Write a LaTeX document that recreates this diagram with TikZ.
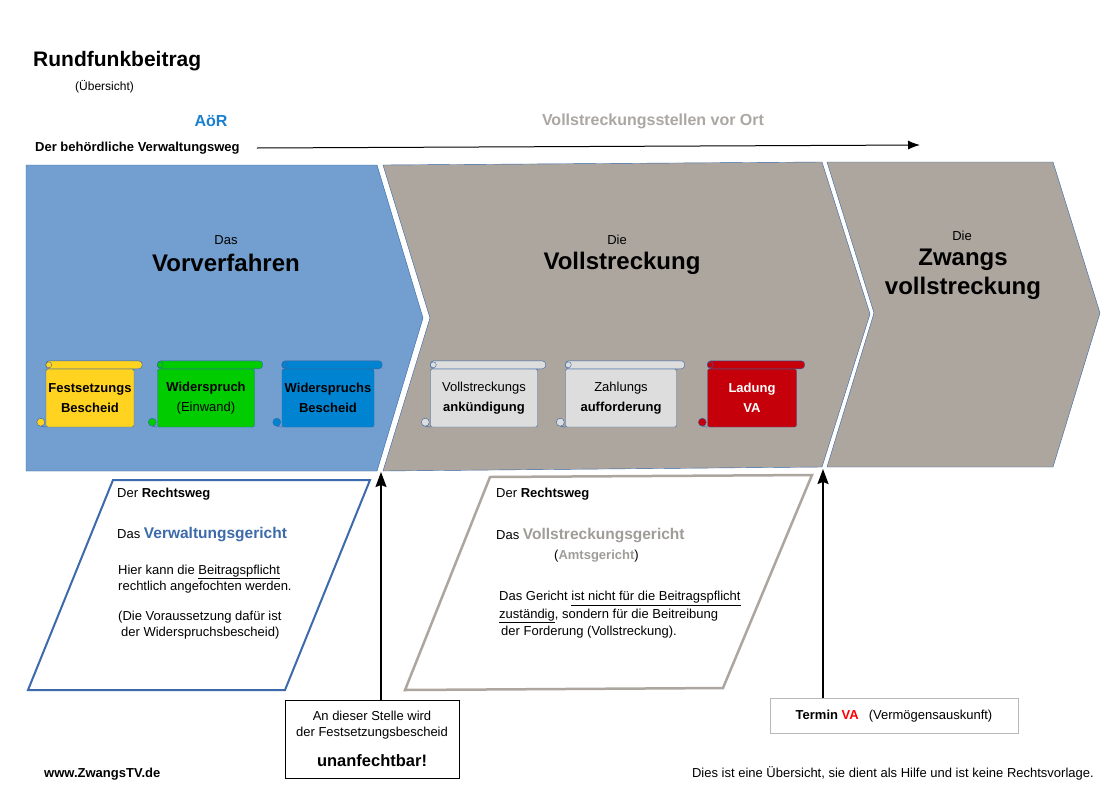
\documentclass[tikz,border=0pt]{standalone}
\usepackage{fontspec}
\setmainfont{Liberation Sans}
\usetikzlibrary{arrows.meta,positioning}
\definecolor{rahmen}{HTML}{3465A4}
\definecolor{aoerfill}{HTML}{729FCF}
\definecolor{grau}{HTML}{ADA69F}
\definecolor{gelb}{HTML}{FFD320}
\definecolor{gruen}{HTML}{00CC00}
\definecolor{blau}{HTML}{0084D1}
\definecolor{hellgrau}{HTML}{DDDDDD}
\definecolor{rot}{HTML}{C5000B}
\definecolor{aoerblau}{HTML}{1A80CF}
\definecolor{ortgrau}{HTML}{ABA7A3}
\definecolor{vgblau}{HTML}{3C6AAA}
\definecolor{vsgrau}{HTML}{A09C98}
\definecolor{boxgrau}{HTML}{B8B8B8}
\begin{document}
\begin{tikzpicture}
[x=1pt,y=-1pt,
txt/.style={inner sep=0pt,font=\fontsize{13}{16}\selectfont},
big/.style={inner sep=0pt,align=center,font=\fontsize{24}{29}\selectfont\bfseries},
chevblue/.style={draw=rahmen,fill=aoerfill},
chevgray/.style={draw=rahmen,fill=grau},
scroll/.style={rectangle,draw=rahmen,rounded corners=2pt,inner sep=0pt,align=center,minimum height=58pt,font=\fontsize{13}{20}\selectfont},
roll/.style={draw=rahmen,rounded corners=3.5pt},
curl/.style={draw=rahmen},
court/.style={line width=2pt,fill=white},
info/.style={rectangle,draw,inner sep=0pt,align=center,font=\fontsize{13}{16}\selectfont},
uparrow/.style={line width=1.6pt,-{Stealth[length=15pt,width=11pt,inset=2pt]}}]
\path [fill=white] (0,0) rectangle (1111,785);
\useasboundingbox (0,0) rectangle (1111,785);

\node (titel) at (33,61) [txt,anchor=west,font=\fontsize{21}{25}\selectfont\bfseries] {Rundfunkbeitrag};
\node (ueber) at (75,87) [txt,anchor=west,font=\fontsize{12}{14}\selectfont] {(Übersicht)};
\node (aoer) at (211,121) [txt,font=\fontsize{16}{19}\selectfont\bfseries,text=aoerblau] {AöR};
\node (vorort) at (653,121) [txt,font=\fontsize{16}{19}\selectfont\bfseries,text=ortgrau] {Vollstreckungsstellen vor Ort};
\node (weg) at (35,148) [txt,anchor=west,font=\fontsize{13}{16}\selectfont\bfseries] {Der behördliche Verwaltungsweg};
\coordinate (wegende) at (920,145);
\draw [line width=1pt,-{Latex[length=12pt,width=9pt]}] ([xshift=17pt]weg.east) -- (wegende);

\draw [chevblue] (26,165) -- (377,165) -- (423,318) -- (377,471) -- (26,471) -- cycle;
\draw [chevgray] (383,165) -- (822,162) -- (870,314) -- (822,467) -- (383,471) -- (430,318) -- cycle;
\draw [chevgray] (827,162) -- (1053,162) -- (1100,313) -- (1053,467) -- (827,467) -- (874,313) -- cycle;

\node (das) at (226,240) [txt] {Das};
\node (vorv) at (226,263) [big] {Vorverfahren};
\node (die1) at (617,240) [txt] {Die};
\node (vollstr) at (622,263) [big] {Vollstreckung};
\node (die2) at (962,236) [txt] {Die};
\node (zwangs) at (963,274) [big] {Zwangs\\vollstreckung};

\node (fest) at (90,398) [scroll,fill=gelb,minimum width=88pt] {\bfseries Festsetzungs\\\bfseries Bescheid};
\draw [roll,fill=gelb] (fest.north west) rectangle ([xshift=8pt,yshift=8pt]fest.north east);
\draw [curl,fill=gelb] ([xshift=3pt,yshift=4pt]fest.north west) circle (3pt) ([xshift=-5pt,yshift=5pt]fest.south west) circle (4pt);
\draw [curl] ([xshift=-5pt,yshift=1pt]fest.south west) -- (fest.south west);

\node (wider) at (206,398) [scroll,fill=gruen,minimum width=97pt] {\bfseries Widerspruch\\(Einwand)};
\draw [roll,fill=gruen] (wider.north west) rectangle ([xshift=8pt,yshift=8pt]wider.north east);
\draw [curl,fill=gruen] ([xshift=3pt,yshift=4pt]wider.north west) circle (3pt) ([xshift=-5pt,yshift=5pt]wider.south west) circle (4pt);
\draw [curl] ([xshift=-5pt,yshift=1pt]wider.south west) -- (wider.south west);

\node (wbesch) at (328,398) [scroll,fill=blau,minimum width=92pt] {\bfseries Widerspruchs\\\bfseries Bescheid};
\draw [roll,fill=blau] (wbesch.north west) rectangle ([xshift=8pt,yshift=8pt]wbesch.north east);
\draw [curl,fill=blau] ([xshift=3pt,yshift=4pt]wbesch.north west) circle (3pt) ([xshift=-5pt,yshift=5pt]wbesch.south west) circle (4pt);
\draw [curl] ([xshift=-5pt,yshift=1pt]wbesch.south west) -- (wbesch.south west);

\node (ankuend) at (484,398) [scroll,fill=hellgrau,minimum width=107pt] {Vollstreckungs\\\bfseries ankündigung};
\draw [roll,fill=hellgrau] (ankuend.north west) rectangle ([xshift=8pt,yshift=8pt]ankuend.north east);
\draw [curl,fill=hellgrau] ([xshift=3pt,yshift=4pt]ankuend.north west) circle (3pt) ([xshift=-5pt,yshift=5pt]ankuend.south west) circle (4pt);
\draw [curl] ([xshift=-5pt,yshift=1pt]ankuend.south west) -- (ankuend.south west);

\node (zahlung) at (621,398) [scroll,fill=hellgrau,minimum width=111pt] {Zahlungs\\\bfseries aufforderung};
\draw [roll,fill=hellgrau] (zahlung.north west) rectangle ([xshift=8pt,yshift=8pt]zahlung.north east);
\draw [curl,fill=hellgrau] ([xshift=3pt,yshift=4pt]zahlung.north west) circle (3pt) ([xshift=-5pt,yshift=5pt]zahlung.south west) circle (4pt);
\draw [curl] ([xshift=-5pt,yshift=1pt]zahlung.south west) -- (zahlung.south west);

\node (ladung) at (752,398) [scroll,fill=rot,minimum width=89pt,text=white] {\bfseries Ladung\\\bfseries VA};
\draw [roll,fill=rot] (ladung.north west) rectangle ([xshift=8pt,yshift=8pt]ladung.north east);
\draw [curl,fill=rot] ([xshift=3pt,yshift=4pt]ladung.north west) circle (3pt) ([xshift=-5pt,yshift=5pt]ladung.south west) circle (4pt);
\draw [curl] ([xshift=-5pt,yshift=1pt]ladung.south west) -- (ladung.south west);

\draw [court,draw=vgblau] (113,480) -- (370,480) -- (285,690) -- (28,690) -- cycle;
\draw [court,draw=grau,line width=2.5pt] (490,477) -- (812,475) -- (723,688) -- (405,690) -- cycle;

\node (rw1) at (117,494) [txt,anchor=west] {Der \textbf{Rechtsweg}};
\node (vg) at (117,535) [txt,anchor=west] {Das {\color{vgblau}\fontsize{15.5}{18}\selectfont\bfseries Verwaltungsgericht}};
\node (hier) at (118,579) [txt,anchor=west,align=left] {Hier kann die \underline{Beitragspflicht}\\rechtlich angefochten werden.};
\node (vorauss) at (118,625) [txt,anchor=west,align=left] {(Die Voraussetzung dafür ist\\\hspace{3pt}der Widerspruchsbescheid)};

\node (rw2) at (496,494) [txt,anchor=west] {Der \textbf{Rechtsweg}};
\node (vsg) at (496,536) [txt,anchor=west] {Das {\color{vsgrau}\fontsize{15.5}{18}\selectfont\bfseries Vollstreckungsgericht}};
\node (amts) at (554,556) [txt,anchor=west] {({\color{vsgrau}\bfseries Amtsgericht})};
\node (gericht) at (499,615) [txt,anchor=west,align=left,font=\fontsize{13}{17.5}\selectfont] {Das Gericht \underline{ist nicht für die Beitragspflicht}\\\underline{zuständig}, sondern für die Beitreibung\\\hspace{2pt}der Forderung (Vollstreckung).};

\node (unanf) at (372,739) [info,minimum width=174pt,minimum height=78pt] {An dieser Stelle wird\\der Festsetzungsbescheid\\[14pt]{\fontsize{16.5}{19}\selectfont\bfseries unanfechtbar!}};
\node (termin) at (894,716) [info,draw=boxgrau,minimum width=248pt,minimum height=35pt] {\textbf{Termin} {\color{red}\bfseries VA}\hspace{10pt}(Vermögensauskunft)};
\coordinate (spitze1) at (381,472);
\coordinate (spitze2) at (823,469);
\draw [uparrow] (unanf.north -| spitze1) -- (spitze1);
\draw [uparrow] (termin.north -| spitze2) -- (spitze2);

\node (web) at (44,774) [txt,anchor=west,font=\fontsize{13}{16}\selectfont\bfseries] {www.ZwangsTV.de};
\node (hinweis) at (1094,773) [txt,anchor=east,font=\fontsize{13}{15}\selectfont] {Dies ist eine Übersicht, sie dient als Hilfe und ist keine Rechtsvorlage.};
\end{tikzpicture}
\end{document}
